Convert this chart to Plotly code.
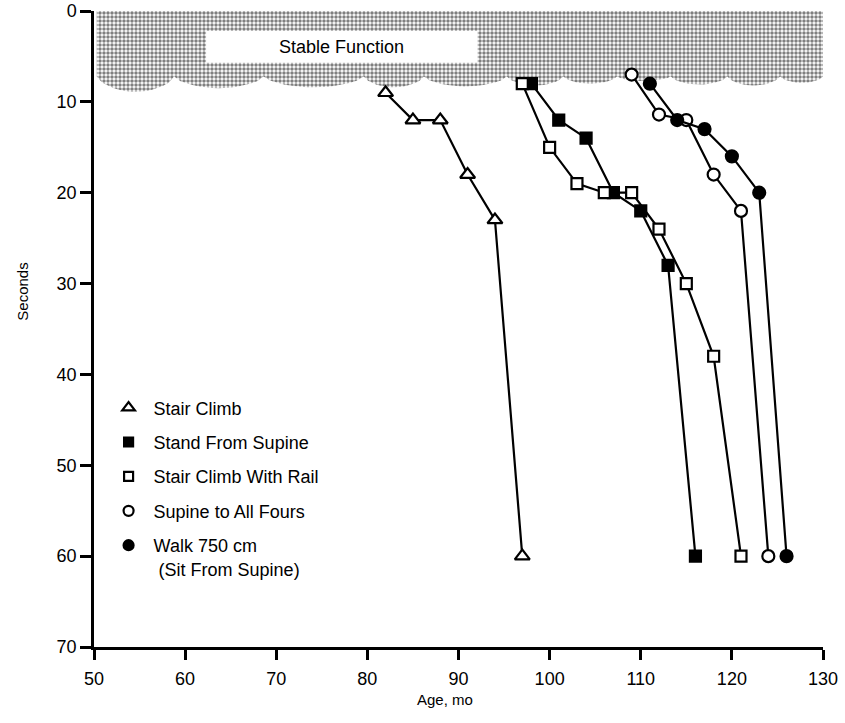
import numpy as np
import plotly.graph_objects as go

# ---- data ----
stair_x = [82, 85, 88, 91, 94, 97]
stair_y = [9, 12, 12, 18, 23, 60]

stand_x = [98, 101, 104, 107, 110, 113, 116]
stand_y = [8, 12, 14, 20, 22, 28, 60]

rail_x = [97, 100, 103, 106, 109, 112, 115, 118, 121]
rail_y = [8, 15, 19, 20, 20, 24, 30, 38, 60]

supine_x = [109, 112, 115, 118, 121, 124]
supine_y = [7, 11.4, 12, 18, 22, 60]

walk_x = [111, 114, 117, 120, 123, 126]
walk_y = [8, 12, 13, 16, 20, 60]

x_ticks = [50, 60, 70, 80, 90, 100, 110, 120, 130]
y_ticks = [0, 10, 20, 30, 40, 50, 60, 70]

# stable-function band edge (scalloped lower edge)
band_cusps_x = [50.3, 58.8, 68.6, 79.6, 86.2, 95.3, 101.5, 107.4, 113.3, 119.5, 125.3, 130]
band_dips_y = [8.9, 8.5, 8.4, 8.4, 8.3, 8.2, 8.0, 7.7, 8.1, 8.2, 7.9]
band_cusp_y = 7.2

FONT = "Liberation Sans, Arial, sans-serif"

# build band polygon
bx, by = [band_cusps_x[0]], [0]
for i in range(len(band_cusps_x) - 1):
    a, b = band_cusps_x[i], band_cusps_x[i + 1]
    t = np.linspace(0, 1, 15)
    xs = a + (b - a) * t
    ys = band_cusp_y + (band_dips_y[i] - band_cusp_y) * np.sin(np.pi * t) ** 0.6
    bx.extend(xs.tolist())
    by.extend(ys.tolist())
bx.append(band_cusps_x[-1]); by.append(0)
bx.append(band_cusps_x[0]); by.append(0)

fig = go.Figure()
fig.add_trace(go.Scatter(
    x=bx, y=by, mode="lines", fill="toself", line=dict(width=0),
    fillcolor="white",
    fillpattern=dict(shape=".", size=4, solidity=0.6, fgcolor="black", bgcolor="white"),
    showlegend=False, hoverinfo="skip"))

series = [
    (" Stair Climb", stair_x, stair_y, "triangle-up", "white", 13),
    (" Stand From Supine", stand_x, stand_y, "square", "black", 11),
    (" Stair Climb With Rail", rail_x, rail_y, "square", "white", 11),
    (" Supine to All Fours", supine_x, supine_y, "circle", "white", 12),
    (" Walk 750 cm<br>  (Sit From Supine)", walk_x, walk_y, "circle", "black", 12),
]
for name, xs, ys, sym, col, sz in series:
    fig.add_trace(go.Scatter(
        x=xs, y=ys, mode="lines+markers",
        line=dict(color="black", width=2.2),
        marker=dict(symbol=sym, color=col, size=sz, line=dict(color="black", width=2.2)),
        showlegend=False))
for i, (name, xs, ys, sym, col, sz) in enumerate(series):
    fig.add_trace(go.Scatter(
        x=[None], y=[None], mode="markers", name=name, legendgroup=str(i),
        marker=dict(symbol=sym, color=col, size=sz - 2, line=dict(color="black", width=2.2))))

fig.add_shape(type="rect", x0=62.3, x1=92.1, y0=2.2, y1=5.7, xref="x", yref="y",
              fillcolor="white", line=dict(width=0), layer="above")
fig.add_annotation(x=77.2, y=4.0, xref="x", yref="y", text="Stable Function",
                   showarrow=False, font=dict(family=FONT, size=18, color="black"))

fig.add_annotation(x=-0.098, y=0.558, xref="paper", yref="paper", text="Seconds",
                   textangle=-90, showarrow=False, xanchor="center", yanchor="middle",
                   font=dict(family=FONT, size=15, color="black"))
fig.add_annotation(x=0.482, y=-0.083, xref="paper", yref="paper", text="Age, mo",
                   showarrow=False, xanchor="center", yanchor="middle",
                   font=dict(family=FONT, size=15, color="black"))

fig.update_layout(
    width=845, height=723,
    margin=dict(l=94, r=22, t=11, b=76, autoexpand=False),
    paper_bgcolor="white", plot_bgcolor="white",
    font=dict(family=FONT, color="black"),
    legend=dict(x=0.02, y=0.405, xanchor="left", yanchor="top",
                font=dict(family=FONT, size=18, color="black"),
                tracegroupgap=8, bgcolor="rgba(0,0,0,0)", valign="top"),
)
fig.update_xaxes(range=[50, 130], tickvals=x_ticks, showgrid=False, zeroline=False,
                 showline=True, linecolor="black", linewidth=2.5, automargin=False,
                 ticks="outside", ticklen=10, tickwidth=2.5, tickcolor="black",
                 ticklabelstandoff=4,
                 tickfont=dict(family=FONT, size=18, color="black"))
fig.update_yaxes(range=[70, 0], tickvals=y_ticks, showgrid=False, zeroline=False,
                 showline=True, linecolor="black", linewidth=2.5, automargin=False,
                 ticks="outside", ticklen=11, tickwidth=2.5, tickcolor="black",
                 tickfont=dict(family=FONT, size=18, color="black"))

fig.write_html("out.html")
